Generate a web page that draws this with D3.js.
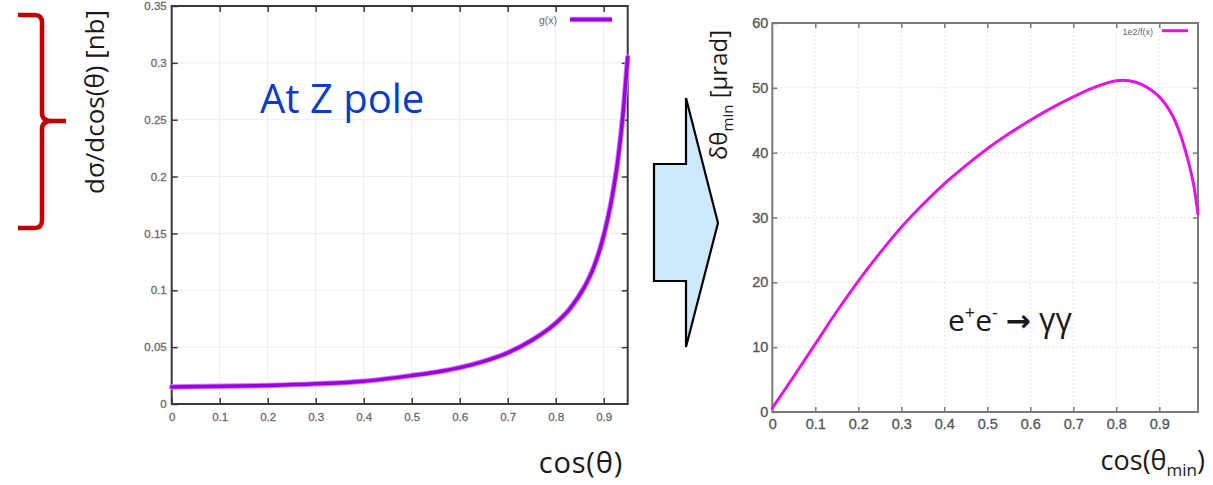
<!DOCTYPE html>
<html>
<head>
<meta charset="utf-8">
<script src="https://cdn.jsdelivr.net/npm/d3@7"></script>
<style>
  html, body { margin: 0; padding: 0; background: #fff; }
  svg { display: block; }
  .tick text { font-family: "Liberation Sans", Arial, sans-serif; }
  .title { font-family: "Open Sans", "Noto Sans", sans-serif; fill: #1a1a1a; }
</style>
</head>
<body>
<svg id="fig" width="1213" height="485"></svg>
<script>
// Differential cross section at the Z pole, dσ/dcos(θ) in nb
const cosTheta = [0, 0.1, 0.2, 0.3, 0.4, 0.5, 0.55, 0.6, 0.65, 0.7, 0.75, 0.8, 0.83, 0.86, 0.88, 0.9, 0.91, 0.92, 0.93, 0.94, 0.95];
const dSigma   = [0.0150, 0.0155, 0.0163, 0.0177, 0.0200, 0.0250, 0.0280, 0.0320, 0.0375, 0.0450, 0.0560, 0.0710, 0.0840, 0.1030, 0.1210, 0.1480, 0.1660, 0.1880, 0.2160, 0.2540, 0.3050];

// Minimum angular resolution vs acceptance, in μrad
const cosThetaMin = [0, 0.05, 0.1, 0.15, 0.2, 0.25, 0.3, 0.35, 0.4, 0.45, 0.5, 0.55, 0.6, 0.65, 0.7, 0.75, 0.8, 0.83, 0.86, 0.9, 0.93, 0.95, 0.97, 0.98, 0.99];
const dThetaMin   = [0.6, 5.5, 10.5, 15.5, 20.2, 24.5, 28.5, 32.0, 35.2, 38.0, 40.6, 42.9, 45.0, 46.9, 48.6, 50.1, 51.1, 51.1, 50.5, 48.6, 45.8, 42.6, 38.0, 35.0, 30.5];

// Tick values
const leftXTicks  = [0, 0.1, 0.2, 0.3, 0.4, 0.5, 0.6, 0.7, 0.8, 0.9];
const leftYTicks  = [0, 0.05, 0.1, 0.15, 0.2, 0.25, 0.3, 0.35];
const rightXTicks = [0, 0.1, 0.2, 0.3, 0.4, 0.5, 0.6, 0.7, 0.8, 0.9];
const rightYTicks = [0, 10, 20, 30, 40, 50, 60];

const svg = d3.select("#fig");
svg.append("rect").attr("width", 1213).attr("height", 485).attr("fill", "#fff");

function panel(opts) {
  const x = d3.scaleLinear().domain(opts.xDomain).range([opts.left, opts.right]);
  const y = d3.scaleLinear().domain(opts.yDomain).range([opts.bottom, opts.top]);
  const g = svg.append("g");

  // grid
  const grid = g.append("g").attr("stroke", opts.gridColor).attr("stroke-width", 1)
    .attr("stroke-dasharray", opts.gridDash || null);
  grid.selectAll(".gx").data(opts.xTicks.filter(d => d > 0)).join("line")
    .attr("x1", d => x(d)).attr("x2", d => x(d)).attr("y1", opts.top).attr("y2", opts.bottom);
  grid.selectAll(".gy").data(opts.yTicks.filter(d => d > 0 && d < opts.yDomain[1])).join("line")
    .attr("y1", d => y(d)).attr("y2", d => y(d)).attr("x1", opts.left).attr("x2", opts.right);

  // axes with inward ticks on all four sides
  const fmt = d => d3.format("")(+d.toFixed(2));
  const bottom = g.append("g").attr("transform", `translate(0,${opts.bottom})`)
    .call(d3.axisBottom(x).tickValues(opts.xTicks).tickSize(-opts.tick).tickPadding(opts.xPad).tickFormat(fmt));
  const left = g.append("g").attr("transform", `translate(${opts.left},0)`)
    .call(d3.axisLeft(y).tickValues(opts.yTicks).tickSize(-opts.tick).tickPadding(opts.yPad).tickFormat(fmt));
  const top = g.append("g").attr("transform", `translate(0,${opts.top})`)
    .call(d3.axisTop(x).tickValues(opts.xTicks.filter(d => d > 0)).tickSize(-opts.tick).tickFormat(""));
  const right = g.append("g").attr("transform", `translate(${opts.right},0)`)
    .call(d3.axisRight(y).tickValues(opts.yTicks.filter(d => d > 0 && d < opts.yDomain[1])).tickSize(-opts.tick).tickFormat(""));
  [bottom, left, top, right].forEach(a => {
    a.select(".domain").remove();
    a.selectAll(".tick line").attr("stroke", opts.frameColor).attr("stroke-width", 1.5);
    a.selectAll(".tick text").attr("fill", opts.labelColor).attr("font-size", opts.labelSize)
      .attr("stroke", opts.labelColor).attr("stroke-width", 0.3);
  });

  // frame
  g.append("rect").attr("x", opts.left).attr("y", opts.top)
    .attr("width", opts.right - opts.left).attr("height", opts.bottom - opts.top)
    .attr("fill", "none").attr("stroke", opts.frameColor).attr("stroke-width", opts.frameWidth);

  // curve
  const line = d3.line().x(d => x(d[0])).y(d => y(d[1])).curve(opts.curve);
  const pts = d3.zip(opts.xs, opts.ys);
  if (opts.halo) {
    g.append("path").datum(pts).attr("d", line).attr("fill", "none")
      .attr("stroke", opts.halo).attr("stroke-width", opts.lineWidth + 2).attr("stroke-linecap", "round");
  }
  g.append("path").datum(pts).attr("d", line).attr("fill", "none")
    .attr("stroke", opts.lineColor).attr("stroke-width", opts.lineWidth).attr("stroke-linecap", "round");

  // legend
  g.append("text").attr("x", opts.legend.tx).attr("y", opts.legend.ty).attr("text-anchor", "end")
    .attr("font-family", "Liberation Sans, Arial, sans-serif").attr("font-size", opts.legend.size)
    .attr("fill", "#666").text(opts.legend.label);
  if (opts.halo) {
    g.append("line").attr("x1", opts.legend.x1).attr("x2", opts.legend.x2)
      .attr("y1", opts.legend.ly).attr("y2", opts.legend.ly)
      .attr("stroke", opts.halo).attr("stroke-width", opts.lineWidth + 2);
  }
  g.append("line").attr("x1", opts.legend.x1).attr("x2", opts.legend.x2)
    .attr("y1", opts.legend.ly).attr("y2", opts.legend.ly)
    .attr("stroke", opts.lineColor).attr("stroke-width", opts.lineWidth);
  return { x, y, g };
}

// Left panel: dσ/dcos(θ)
panel({
  xDomain: [0, 0.95], yDomain: [0, 0.35],
  left: 171.7, right: 627.7, top: 6, bottom: 404,
  xTicks: leftXTicks, yTicks: leftYTicks,
  xs: cosTheta, ys: dSigma, curve: d3.curveMonotoneX,
  gridColor: "#ececec", frameColor: "#3a3a3a", frameWidth: 2,
  labelColor: "#6a6a6a", labelSize: 11.5, tick: 6, xPad: 9, yPad: 5,
  lineColor: "#9c00e0", halo: "#cc80f2", lineWidth: 3.5,
  legend: { label: "g(x)", tx: 557, ty: 24, size: 10.5, x1: 570, x2: 612, ly: 19.5 }
});

// Right panel: δθ_min
panel({
  xDomain: [0, 0.99], yDomain: [0, 60],
  left: 772.3, right: 1198, top: 23, bottom: 412,
  xTicks: rightXTicks, yTicks: rightYTicks,
  xs: cosThetaMin, ys: dThetaMin, curve: d3.curveCatmullRom.alpha(0.5),
  gridColor: "#dcdcdc", gridDash: "1.5,2.5", frameColor: "#7a7a7a", frameWidth: 2,
  labelColor: "#555", labelSize: 14.5, tick: 5, xPad: 7, yPad: 4,
  lineColor: "#e414e4", halo: null, lineWidth: 3,
  legend: { label: "1e2/f(x)", tx: 1153, ty: 34.5, size: 9, x1: 1162, x2: 1188, ly: 30.7 }
});

// Axis titles
svg.append("text").attr("class", "title").attr("font-size", 26)
  .attr("transform", "translate(104,102) rotate(-90)").attr("text-anchor", "middle")
  .text("dσ/dcos(θ) [nb]");
svg.append("text").attr("class", "title").attr("font-size", 29)
  .attr("x", 623).attr("y", 473).attr("text-anchor", "end").attr("letter-spacing", 0.8).text("cos(θ)");

const yr = svg.append("text").attr("class", "title").attr("font-size", 24)
  .attr("transform", "translate(727,95) rotate(-90)").attr("text-anchor", "middle");
yr.append("tspan").text("δθ");
yr.append("tspan").attr("font-size", 15).attr("dy", 6).text("min");
yr.append("tspan").attr("dy", -6).text(" [μrad]");

const xr = svg.append("text").attr("class", "title").attr("font-size", 27)
  .attr("x", 1205).attr("y", 470).attr("text-anchor", "end");
xr.append("tspan").text("cos(θ");
xr.append("tspan").attr("font-size", 17).attr("dy", 6).text("min");
xr.append("tspan").attr("dy", -6).text(")");

// Annotations
svg.append("text").attr("font-family", "Open Sans, Noto Sans, sans-serif").attr("font-size", 40)
  .attr("fill", "#0a3cc8").attr("x", 260).attr("y", 113).text("At Z pole");

const proc = svg.append("text").attr("class", "title").attr("font-size", 30)
  .attr("x", 948).attr("y", 331);
proc.append("tspan").text("e");
proc.append("tspan").attr("font-size", 18).attr("dy", -12).text("+");
proc.append("tspan").attr("dy", 12).text("e");
proc.append("tspan").attr("font-size", 18).attr("dy", -12).text("-");
proc.append("tspan").attr("dy", 12).text("  ");
proc.append("tspan").attr("font-family", "DejaVu Sans").attr("font-weight", "bold").attr("font-size", 30).text("→");
proc.append("tspan").attr("font-size", 32).text(" γγ");

// Red curly brace
svg.append("path")
  .attr("d", "M18,15 L35,15 Q42,15 42,23 L42,113 Q42,121 52,121 L66,121 M52,121 Q42,121 42,129 L42,220 Q42,228 35,228 L18,228")
  .attr("fill", "none").attr("stroke", "#c00000").attr("stroke-width", 4.5)
  .attr("stroke-linejoin", "round");

// Block arrow between the panels
svg.append("polygon")
  .attr("points", "654,164 686,164 686,98 718,223 686,347 686,281 654,281")
  .attr("fill", "#cde9fb").attr("stroke", "#000").attr("stroke-width", 2.2)
  .attr("stroke-linejoin", "miter");
</script>
</body>
</html>
